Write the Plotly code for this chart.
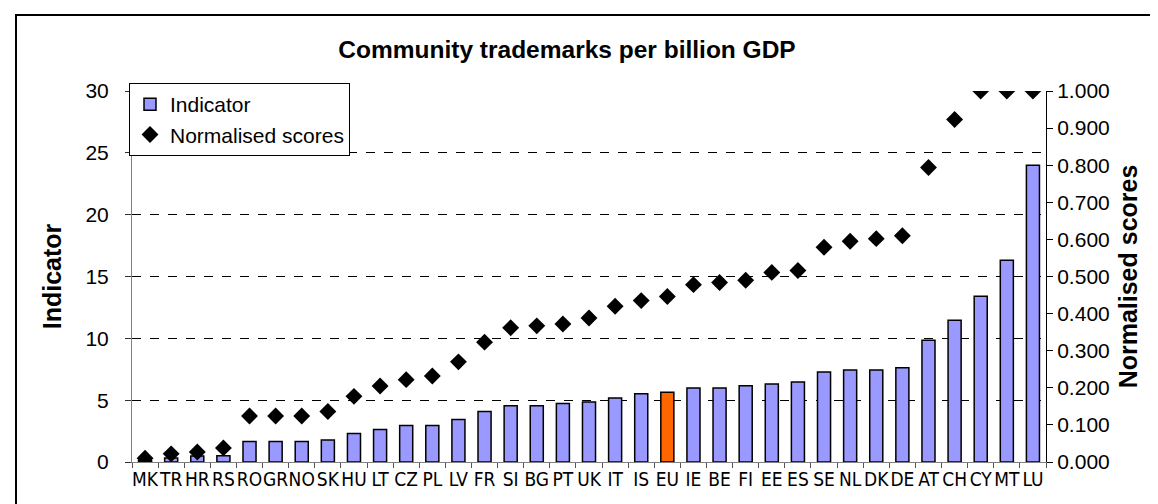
import plotly.graph_objects as go

categories = ["MK", "TR", "HR", "RS", "RO", "GR", "NO", "SK", "HU", "LT", "CZ", "PL",
              "LV", "FR", "SI", "BG", "PT", "UK", "IT", "IS", "EU", "IE", "BE", "FI",
              "EE", "ES", "SE", "NL", "DK", "DE", "AT", "CH", "CY", "MT", "LU"]
indicator = [0.1, 0.32, 0.49, 0.5, 1.65, 1.65, 1.65, 1.78, 2.3, 2.62, 2.95, 2.95,
             3.43, 4.08, 4.54, 4.54, 4.73, 4.86, 5.17, 5.52, 5.65, 5.98, 5.98, 6.17,
             6.30, 6.46, 7.27, 7.43, 7.43, 7.62, 9.85, 11.47, 13.41, 16.32, 24.0]
normalised = [0.010, 0.022, 0.027, 0.038, 0.124, 0.124, 0.124, 0.136, 0.177, 0.205,
              0.222, 0.232, 0.270, 0.323, 0.362, 0.367, 0.372, 0.388, 0.420, 0.435,
              0.446, 0.478, 0.484, 0.490, 0.511, 0.516, 0.579, 0.595, 0.602, 0.610,
              0.794, 0.923, 1.000, 1.000, 1.000]
highlight = "EU"

bar_colors = ["#FF6600" if c == highlight else "#9999FF" for c in categories]

FONT = "Liberation Sans, Arial, sans-serif"
NARROW = "Liberation Sans Narrow, Arial Narrow, DejaVu Sans Condensed, sans-serif"

fig = go.Figure()
fig.add_trace(go.Bar(
    x=categories, y=indicator, name="Indicator",
    marker=dict(color=bar_colors, line=dict(color="black", width=1.5)),
    yaxis="y",
))
fig.add_trace(go.Scatter(
    x=categories, y=normalised, name="Normalised scores", mode="markers",
    marker=dict(symbol="diamond", size=13, color="black"),
    yaxis="y2",
))

W, H = 1158, 504
L, R, T, B = 124, 1038, 83, 454
pw, ph = R - L, B - T

def px_x(x):
    return (x - L) / pw

def px_y(y):
    return (B - y) / ph

fig.update_layout(
    width=W, height=H,
    margin=dict(l=L, r=W - R, t=T, b=H - B, pad=0),
    paper_bgcolor="white", plot_bgcolor="white",
    font=dict(family=FONT, size=21, color="black"),
    bargap=0.5,
    showlegend=True,
    title=dict(text="<b>Community trademarks per billion GDP</b>",
               x=559 / W, xanchor="center", y=1 - 41 / H, yanchor="middle",
               font=dict(size=24.5, family=FONT, color="black")),
    legend=dict(x=px_x(121), y=px_y(75), xanchor="left", yanchor="top",
                bgcolor="white", bordercolor="black", borderwidth=1,
                font=dict(size=21, family=FONT), tracegroupgap=0,
                itemwidth=30),
    xaxis=dict(
        type="category", tickangle=0, ticks="outside", tickson="boundaries",
        ticklen=5, tickcolor="#555555", showline=True, linecolor="#808080",
        linewidth=1, showgrid=False, tickfont=dict(size=19, family=NARROW),
        range=[-0.5, len(categories) - 0.5],
    ),
    yaxis=dict(
        range=[0, 30], dtick=5, tick0=0, ticks="outside", ticklen=6,
        tickcolor="#333333", showline=True, linecolor="#808080", linewidth=1,
        showgrid=True, gridcolor="black", gridwidth=1, griddash="dash",
        zeroline=False, tickfont=dict(size=21, family=FONT),
        ticklabelstandoff=12,
        title=dict(text="<b>Indicator</b>", font=dict(size=25, family=FONT),
                   standoff=16),
    ),
    yaxis2=dict(
        range=[0, 1], dtick=0.1, tick0=0, tickformat=".3f", overlaying="y",
        side="right", ticks="outside", ticklen=6, tickcolor="black",
        showline=True, linecolor="black", linewidth=1, showgrid=False,
        zeroline=False, tickfont=dict(size=21, family=FONT),
        title=dict(text="<b>Normalised scores</b>", font=dict(size=25, family=FONT),
                   standoff=10),
    ),
    shapes=[dict(type="rect", xref="paper", yref="paper",
                 x0=px_x(8), x1=px_x(1175), y0=px_y(525), y1=px_y(7),
                 line=dict(color="black", width=2), fillcolor="rgba(0,0,0,0)",
                 layer="above")],
)

fig.write_html("out.html")
